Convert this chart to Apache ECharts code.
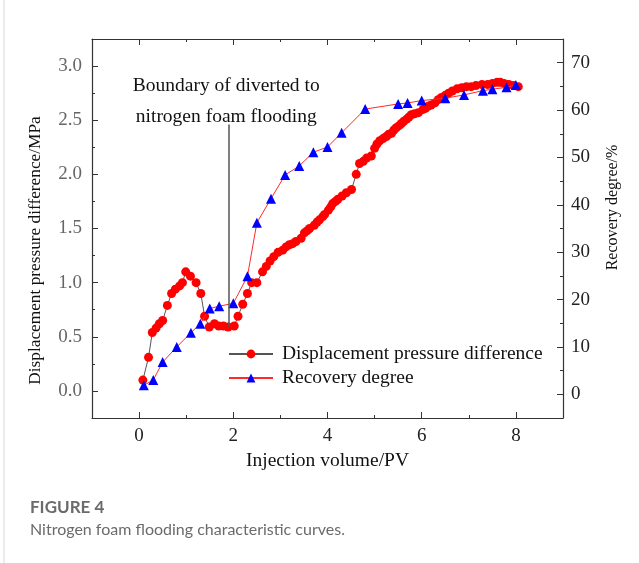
<!DOCTYPE html>
<html>
<head>
<meta charset="utf-8">
<script src="https://cdn.jsdelivr.net/npm/echarts@6/dist/echarts.min.js"></script>
<style>
  html, body { margin: 0; padding: 0; background: #fff; }
  #chart { width: 639px; height: 563px; }
</style>
</head>
<body>
<div id="chart"></div>
<script>
// Displacement pressure difference (MPa) vs injection volume (PV)
const pressureX = [0.08, 0.2, 0.28, 0.36, 0.43, 0.5, 0.6, 0.69, 0.77, 0.86, 0.92, 0.99, 1.09, 1.21, 1.31, 1.39, 1.49, 1.6, 1.69, 1.79, 1.89,
  2.02, 2.1, 2.2, 2.3, 2.39, 2.5, 2.62, 2.7, 2.78, 2.86, 2.95, 3.05, 3.12, 3.19, 3.26, 3.33, 3.44, 3.51, 3.57, 3.62, 3.72, 3.78, 3.83, 3.9, 3.94,
  4.02, 4.07, 4.11, 4.17, 4.22, 4.31, 4.4, 4.51, 4.61, 4.68, 4.76, 4.83, 4.93, 5.0, 5.05, 5.11, 5.18, 5.25, 5.3, 5.36, 5.41, 5.46, 5.52, 5.57,
  5.62, 5.68, 5.73, 5.78, 5.85, 5.93, 6.03, 6.08, 6.14, 6.2, 6.28, 6.35, 6.42, 6.5, 6.57, 6.65, 6.75, 6.85, 6.95, 7.05, 7.15, 7.28, 7.4, 7.5,
  7.6, 7.67, 7.75, 7.85, 7.95, 8.05];
const pressureY = [0.10, 0.31, 0.54, 0.58, 0.62, 0.65, 0.79, 0.90, 0.94, 0.97, 1.00, 1.10, 1.06, 1.00, 0.90, 0.69, 0.59, 0.62, 0.60, 0.60, 0.59,
  0.60, 0.69, 0.80, 0.90, 1.00, 1.00, 1.10, 1.15, 1.20, 1.24, 1.28, 1.30, 1.33, 1.35, 1.36, 1.38, 1.41, 1.46, 1.48, 1.50, 1.53, 1.56, 1.58, 1.61, 1.63,
  1.67, 1.70, 1.73, 1.75, 1.77, 1.80, 1.83, 1.86, 2.00, 2.10, 2.12, 2.15, 2.17, 2.24, 2.28, 2.31, 2.33, 2.35, 2.37, 2.38, 2.41, 2.43, 2.45, 2.47,
  2.49, 2.51, 2.53, 2.55, 2.56, 2.57, 2.60, 2.61, 2.63, 2.64, 2.66, 2.69, 2.71, 2.73, 2.75, 2.77, 2.79, 2.80, 2.81, 2.81, 2.82, 2.83, 2.83, 2.84,
  2.85, 2.85, 2.84, 2.83, 2.82, 2.81];

// Recovery degree (%) vs injection volume (PV)
const recoveryX = [0.1, 0.3, 0.5, 0.8, 1.1, 1.3, 1.5, 1.7, 2.0, 2.3, 2.5, 2.8, 3.1, 3.4, 3.7, 4.0, 4.3, 4.8, 5.5, 5.7, 6.0, 6.5, 6.9, 7.3, 7.5, 7.8, 8.0];
const recoveryY = [1.9, 3.0, 6.8, 10.0, 13.0, 14.9, 18.1, 18.6, 19.2, 24.9, 36.2, 41.3, 46.3, 48.2, 51.1, 52.2, 55.2, 60.2, 61.3, 61.5, 62.0, 62.5, 63.2, 64.1, 64.4, 64.8, 65.3];

// ticks
const xMajor = [0, 2, 4, 6, 8];
const xMinor = [1, 3, 5, 7];
const leftMajor = [0, 0.5, 1, 1.5, 2, 2.5, 3];
const leftMinor = [0.25, 0.75, 1.25, 1.75, 2.25, 2.75];
const rightMajor = [0, 10, 20, 30, 40, 50, 60, 70];
const rightMinor = [5, 15, 25, 35, 45, 55, 65];

// boundary annotation
const boundaryX = 1.9;
const boundaryFrom = 0.59;
const boundaryTo = 2.46;
const boundaryText = 'Boundary of diverted to\nnitrogen foam flooding';

const chart = echarts.init(document.getElementById('chart'));

const serif = '"Liberation Serif", "DejaVu Serif", serif';
const axisColor = '#333';

// one axis per tick set, so major and minor ticks get their own length
function xAxisDef(pos, ticks, len, extra) {
  return Object.assign({
    type: 'value',
    position: pos,
    min: -1,
    max: 9,
    axisLine: { show: false, onZero: false },
    axisTick: { show: true, inside: true, length: len, customValues: ticks, lineStyle: { color: axisColor } },
    axisLabel: { show: false },
    splitLine: { show: false }
  }, extra || {});
}

function yAxisDef(pos, min, max, ticks, len, extra) {
  return Object.assign({
    type: 'value',
    position: pos,
    min: min,
    max: max,
    axisLine: { show: false, onZero: false },
    axisTick: { show: true, inside: true, length: len, customValues: ticks, lineStyle: { color: axisColor } },
    axisLabel: { show: false },
    splitLine: { show: false }
  }, extra || {});
}

const frameLine = { show: true, onZero: false, lineStyle: { color: axisColor, width: 1.2 } };

const pressureData = pressureX.map((x, i) => [x, pressureY[i]]);
const recoveryData = recoveryX.map((x, i) => [x, recoveryY[i]]);

const option = {
  backgroundColor: '#fff',
  animation: false,
  title: {
    text: 'FIGURE 4',
    subtext: 'Nitrogen foam flooding characteristic curves.',
    left: 25,
    top: 494,
    itemGap: 6,
    textStyle: { fontFamily: 'Lato, "Noto Sans", sans-serif', fontSize: 17, fontWeight: 'bold', color: '#6b6b6b' },
    subtextStyle: { fontFamily: 'Lato, "Noto Sans", sans-serif', fontSize: 16, color: '#6b6b6b' }
  },
  graphic: [
    { type: 'line', shape: { x1: 4, y1: 0, x2: 4, y2: 563 }, style: { stroke: '#d8d8d8', lineWidth: 1 } }
  ],
  legend: {
    orient: 'vertical',
    left: 228,
    top: 344,
    padding: 0,
    itemWidth: 44,
    itemHeight: 11,
    itemGap: 4,
    textStyle: { fontFamily: serif, fontSize: 19.5, color: '#111', padding: [0, 0, 0, 4] },
    data: ['Displacement pressure difference', 'Recovery degree']
  },
  grid: { left: 92, right: 76, top: 39, bottom: 145 },
  xAxis: [
    xAxisDef('bottom', xMajor, 6, {
      axisLine: frameLine,
      axisLabel: { show: true, customValues: xMajor, margin: 9, fontFamily: serif, fontSize: 19, color: '#222' },
      name: 'Injection volume/PV',
      nameLocation: 'middle',
      nameGap: 30,
      nameTextStyle: { fontFamily: serif, fontSize: 19.5, color: '#111' }
    }),
    xAxisDef('bottom', xMinor, 3),
    xAxisDef('top', xMajor, 6, { axisLine: frameLine }),
    xAxisDef('top', xMinor, 3)
  ],
  yAxis: [
    yAxisDef('left', -0.25, 3.25, leftMajor, 6, {
      axisLine: frameLine,
      axisLabel: { show: true, customValues: leftMajor, margin: 10, fontFamily: serif, fontSize: 19, color: '#666',
        formatter: v => v.toFixed(1) },
      name: 'Displacement pressure difference/MPa',
      nameLocation: 'middle',
      nameRotate: 90,
      nameGap: 48,
      nameMoveOverlap: false,
      nameTextStyle: { fontFamily: serif, fontSize: 17.3, color: '#111', padding: [0, 44, 0, 0] }
    }),
    yAxisDef('left', -0.25, 3.25, leftMinor, 3),
    yAxisDef('right', -5, 75, rightMajor, 6, {
      axisLine: frameLine,
      axisLabel: { show: true, customValues: rightMajor, margin: 8, fontFamily: serif, fontSize: 19, color: '#222' },
      name: 'Recovery degree/%',
      nameLocation: 'middle',
      nameRotate: 90,
      nameGap: 42,
      nameMoveOverlap: false,
      nameTextStyle: { fontFamily: serif, fontSize: 16, color: '#111', padding: [0, 0, 0, 42] }
    }),
    yAxisDef('right', -5, 75, rightMinor, 3)
  ],
  series: [
    {
      name: 'Displacement pressure difference',
      type: 'line',
      xAxisIndex: 0,
      yAxisIndex: 0,
      data: pressureData,
      symbol: 'circle',
      symbolSize: 9,
      itemStyle: { color: '#ff0000' },
      lineStyle: { color: '#555', width: 1 },
      markLine: {
        silent: true,
        symbol: ['none', 'none'],
        label: { show: false },
        lineStyle: { color: '#555', width: 1.5, type: 'solid' },
        data: [[{ coord: [boundaryX, boundaryFrom] }, { coord: [boundaryX, boundaryTo] }]]
      },
      markPoint: {
        silent: true,
        symbol: 'rect',
        symbolSize: 1,
        itemStyle: { color: 'rgba(0,0,0,0)' },
        label: {
          show: true,
          position: 'inside',
          formatter: boundaryText,
          fontFamily: serif,
          fontSize: 19.5,
          lineHeight: 31,
          color: '#111',
          align: 'center'
        },
        data: [{ coord: [1.85, 2.67] }]
      },
      z: 2
    },
    {
      name: 'Recovery degree',
      type: 'line',
      xAxisIndex: 0,
      yAxisIndex: 2,
      data: recoveryData,
      symbol: 'triangle',
      symbolSize: 10,
      itemStyle: { color: '#0000ff' },
      lineStyle: { color: '#ff2a2a', width: 1 },
      z: 3
    }
  ]
};

chart.setOption(option);
</script>
</body>
</html>
